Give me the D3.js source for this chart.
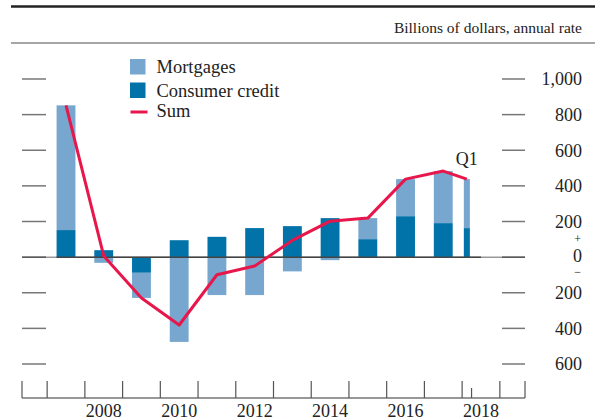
<!DOCTYPE html>
<html>
<head>
<meta charset="utf-8">
<script src="https://cdn.jsdelivr.net/npm/d3@7"></script>
<style>
  body { margin: 0; background: #fff; }
  text { font-family: "Liberation Serif", "Times New Roman", serif; fill: #222; }
</style>
</head>
<body>
<svg></svg>
<script>
const width = 595;
const height = 420;

// annual flows, last period is 2018 Q1
const periods = ["2007", "2008", "2009", "2010", "2011", "2012", "2013", "2014", "2015", "2016", "2017", "2018Q1"];
const mortgages = [700, -32, -141, -476, -213, -213, -80, -17, 118, 208, 292, 275];
const consumerCredit = [152, 39, -88, 95, 114, 163, 174, 219, 101, 230, 191, 163];
const yearLabels = ["2008", "2010", "2012", "2014", "2016", "2018"];
const yTicks = [1000, 800, 600, 400, 200, 0, -200, -400, -600];

const colors = { mortgages: "#77a7ce", consumer: "#0173a9", sum: "#e8174b" };

const rows = periods.map((p, i) => {
    const q = p.indexOf("Q") >= 0;
    const start = +p.slice(0, 4) + (q ? (+p.slice(5) - 1) * 0.25 : 0);
    return {
        period: p, start: start, len: q ? 0.25 : 1,
        consumer: consumerCredit[i], mortgages: mortgages[i],
        sum: consumerCredit[i] + mortgages[i]
    };
});

const svg = d3.select("svg").attr("width", width).attr("height", height);

const x = d3.scaleLinear().domain([2006 + 1 / 3, 2019 + 2 / 3]).range([22, 525]);
const y = d3.scaleLinear().domain([-600, 1000]).range([364, 79]);

// header rules
svg.append("line").attr("x1", 11).attr("x2", width).attr("y1", 6.5).attr("y2", 6.5)
    .style("stroke", "#222").style("stroke-width", 2.5);
svg.append("line").attr("x1", 11).attr("x2", width).attr("y1", 43).attr("y2", 43)
    .style("stroke", "#888").style("stroke-width", 1.5);
svg.append("text").attr("x", 582).attr("y", 33).attr("text-anchor", "end")
    .style("font-size", "15.5px").text("Billions of dollars, annual rate");

// side ticks
yTicks.forEach(v => {
    [[22, 46], [502, 525]].forEach(([a, b]) => {
        svg.append("line").attr("x1", a).attr("x2", b).attr("y1", y(v)).attr("y2", y(v))
            .style("stroke", v === 0 ? "#444" : "#777").style("stroke-width", 1.5);
    });
    svg.append("text").attr("x", 582).attr("y", y(v) + (v === 0 ? -1 : 0))
        .attr("text-anchor", "end").attr("dy", "0.35em")
        .style("font-size", "18px")
        .text(d3.format(",")(Math.abs(v)));
});
svg.append("text").attr("x", 581).attr("y", y(0) - 18).attr("text-anchor", "end")
    .attr("dy", "0.35em").style("font-size", "12px").text("+");
svg.append("text").attr("x", 581).attr("y", y(0) + 15).attr("text-anchor", "end")
    .attr("dy", "0.35em").style("font-size", "12px").text("\u2212");

// zero line
svg.append("line").attr("x1", 46).attr("x2", 502).attr("y1", y(0)).attr("y2", y(0))
    .style("stroke", "#999").style("stroke-width", 1.5);

// stacked bars
const stack = d3.stack().keys(["consumer", "mortgages"]).offset(d3.stackOffsetDiverging);
const series = stack(rows);
const barW = d => (d.data.len === 1 ? 0.5 : 0.16);

svg.append("g").selectAll("g")
    .data(series)
    .enter().append("g")
    .style("fill", s => s.key === "consumer" ? colors.consumer : colors.mortgages)
    .selectAll("rect")
    .data(s => s)
    .enter().append("rect")
    .attr("x", d => x(d.data.start + d.data.len / 2 - barW(d) / 2))
    .attr("width", d => x(d.data.start + d.data.len / 2 + barW(d) / 2) - x(d.data.start + d.data.len / 2 - barW(d) / 2))
    .attr("y", d => y(Math.max(d[0], d[1])))
    .attr("height", d => Math.abs(y(d[0]) - y(d[1])));

svg.append("line").attr("x1", x(2007.25)).attr("x2", 481).attr("y1", y(0)).attr("y2", y(0))
    .style("stroke", "#444").style("stroke-width", 1.5);

// sum line
const line = d3.line()
    .x(d => x(d.start + d.len / 2))
    .y(d => y(d.sum));
svg.append("path").datum(rows).attr("d", line)
    .style("fill", "none").style("stroke", colors.sum).style("stroke-width", 3)
    .style("stroke-linejoin", "round");

const last = rows[rows.length - 1];
svg.append("text").attr("x", x(last.start + last.len / 2)).attr("y", 165)
    .attr("text-anchor", "middle").style("font-size", "18px").text("Q1");

// bottom axis
const axisY = 398;
svg.append("line").attr("x1", 22).attr("x2", 525).attr("y1", axisY).attr("y2", axisY)
    .style("stroke", "#333").style("stroke-width", 1.2);
const boundaries = [x.domain()[0]].concat(d3.range(2007, 2020), [x.domain()[1]]);
boundaries.forEach(b => {
    svg.append("line").attr("x1", x(b)).attr("x2", x(b)).attr("y1", 381).attr("y2", axisY)
        .style("stroke", "#555").style("stroke-width", 1.2);
});
svg.append("line").attr("x1", x(2018.25)).attr("x2", x(2018.25)).attr("y1", 388).attr("y2", axisY)
    .style("stroke", "#555").style("stroke-width", 1.2);
yearLabels.forEach(l => {
    svg.append("text").attr("x", x(+l + 0.5)).attr("y", 417).attr("text-anchor", "middle")
        .style("font-size", "18px").text(l);
});

// legend
const legend = svg.append("g").attr("transform", "translate(130,59)");
[["Mortgages", colors.mortgages], ["Consumer credit", colors.consumer]].forEach(([name, c], i) => {
    legend.append("rect").attr("x", 0).attr("y", i * 23.5).attr("width", 15.5).attr("height", 15.5)
        .style("fill", c);
    legend.append("text").attr("x", 26.5).attr("y", i * 23.5 + 14).style("font-size", "18.5px").text(name);
});
legend.append("line").attr("x1", 0.5).attr("x2", 17.5).attr("y1", 53).attr("y2", 53)
    .style("stroke", colors.sum).style("stroke-width", 3);
legend.append("text").attr("x", 26.5).attr("y", 58).style("font-size", "18.5px").text("Sum");
</script>
</body>
</html>
